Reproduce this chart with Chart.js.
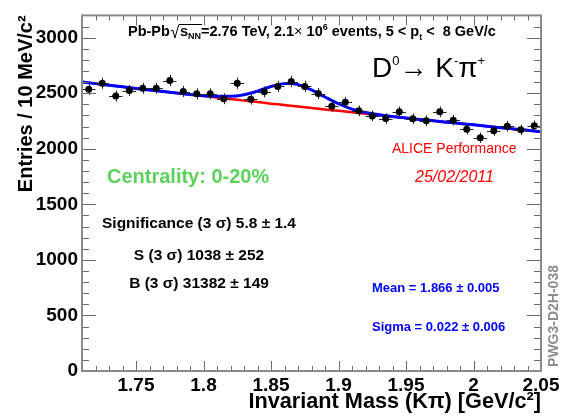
<!DOCTYPE html>
<html>
<head>
<meta charset="utf-8">
<script src="https://cdn.jsdelivr.net/npm/chart.js@4.4.1/dist/chart.umd.min.js"></script>
<style>
  html, body { margin: 0; padding: 0; background: #fff; }
</style>
</head>
<body>
<canvas id="massPlot" width="564" height="420"></canvas>
<script>
// K-pi invariant mass, 10 MeV bins
const massBins = [1.715, 1.725, 1.735, 1.745, 1.755, 1.765, 1.775, 1.785, 1.795, 1.805,
                  1.815, 1.825, 1.835, 1.845, 1.855, 1.865, 1.875, 1.885, 1.895, 1.905,
                  1.915, 1.925, 1.935, 1.945, 1.955, 1.965, 1.975, 1.985, 1.995, 2.005,
                  2.015, 2.025, 2.035, 2.045];
const entries = [2535, 2590, 2474, 2524, 2544, 2544, 2614, 2515, 2494, 2494,
                 2450, 2590, 2445, 2512, 2561, 2605, 2561, 2497, 2383, 2418,
                 2342, 2295, 2272, 2333, 2269, 2252, 2333, 2257, 2175, 2099,
                 2161, 2202, 2170, 2208];
const entryErrors = [50, 51, 50, 50, 50, 50, 51, 50, 50, 50,
                     49, 51, 49, 50, 51, 51, 51, 50, 49, 49,
                     48, 48, 48, 48, 48, 47, 48, 48, 47, 46,
                     46, 47, 47, 47];
const binHalfWidth = 0.005;

// fit curves: exponential background and background + gaussian
const fitMass = [1.71, 1.72, 1.73, 1.74, 1.75, 1.76, 1.77, 1.78, 1.79, 1.80,
                 1.81, 1.82, 1.83, 1.84, 1.85, 1.86, 1.865, 1.87, 1.88, 1.89,
                 1.90, 1.91, 1.92, 1.93, 1.94, 1.95, 1.96, 1.97, 1.98, 1.99,
                 2.00, 2.01, 2.02, 2.03, 2.04, 2.05];
const backgroundFit = [2600, 2586, 2571, 2557, 2543, 2529, 2515, 2501, 2488, 2474,
                       2460, 2447, 2433, 2420, 2406, 2393, 2386, 2380, 2367, 2354,
                       2341, 2328, 2315, 2302, 2289, 2277, 2264, 2252, 2239, 2227,
                       2215, 2203, 2190, 2178, 2166, 2154];
const totalFit = [2600, 2586, 2571, 2557, 2543, 2529, 2515, 2501, 2489, 2477,
                  2472, 2472, 2486, 2519, 2560, 2586, 2588, 2577, 2530, 2466,
                  2405, 2357, 2326, 2305, 2290, 2277, 2264, 2252, 2239, 2227,
                  2215, 2203, 2190, 2178, 2166, 2154];

const massTicks = [1.75, 1.8, 1.85, 1.9, 1.95, 2, 2.05];
const entryTicks = [0, 500, 1000, 1500, 2000, 2500, 3000];

const SANS = '"Liberation Sans", Arial, Helvetica, sans-serif';

// draws a row of text pieces (sub/superscripts) starting at x, or centred on x
function drawRuns(ctx, x, y, runs, align) {
  let total = 0;
  runs.forEach(r => {
    ctx.font = r.font;
    r.w = r.gap != null ? r.gap : ctx.measureText(r.text).width;
    total += r.w;
  });
  let cx = align === 'center' ? x - total / 2 : x;
  runs.forEach(r => {
    r.x = cx;
    if (r.text) {
      ctx.font = r.font;
      ctx.fillText(r.text, cx, y + (r.dy || 0));
    }
    cx += r.w;
  });
  return runs;
}

// ROOT style frame with inward ticks on all four sides
const frameTicks = {
  id: 'frameTicks',
  afterDatasetsDraw(chart) {
    const { ctx, chartArea: a, scales: { x, y } } = chart;
    ctx.save();
    ctx.strokeStyle = '#6a6a6a';
    ctx.lineWidth = 1;
    ctx.beginPath();
    for (let i = 172; i <= 204; i++) {
      const px = Math.round(x.getPixelForValue(i / 100)) + 0.5;
      const len = i % 5 === 0 ? 10 : 5;
      ctx.moveTo(px, a.bottom); ctx.lineTo(px, a.bottom - len);
      ctx.moveTo(px, a.top); ctx.lineTo(px, a.top + len);
    }
    for (let v = 100; v <= 3100; v += 100) {
      const py = Math.round(y.getPixelForValue(v)) + 0.5;
      const len = v % 500 === 0 ? 14 : 7;
      ctx.moveTo(a.left, py); ctx.lineTo(a.left + len, py);
      ctx.moveTo(a.right, py); ctx.lineTo(a.right - len, py);
    }
    ctx.stroke();
    ctx.strokeStyle = '#8a8a8a';
    ctx.lineWidth = 2;
    ctx.strokeRect(a.left, a.top, a.right - a.left, a.bottom - a.top);
    ctx.restore();
  },
  beforeDatasetDraw(chart, args) {
    if (args.index !== 0) return;
    const { ctx, scales: { x, y } } = chart;
    ctx.save();
    ctx.strokeStyle = '#262626';
    ctx.lineWidth = 1;
    ctx.beginPath();
    massBins.forEach((m, i) => {
      const px = Math.round(x.getPixelForValue(m)) + 0.5;
      const py = Math.round(y.getPixelForValue(entries[i])) + 0.5;
      ctx.moveTo(x.getPixelForValue(m - binHalfWidth), py);
      ctx.lineTo(x.getPixelForValue(m + binHalfWidth), py);
      ctx.moveTo(px, y.getPixelForValue(entries[i] - entryErrors[i]));
      ctx.lineTo(px, y.getPixelForValue(entries[i] + entryErrors[i]));
    });
    ctx.stroke();
    ctx.restore();
  }
};

// labels inside the pad
const padLabels = {
  id: 'padLabels',
  afterDraw(chart) {
    const ctx = chart.ctx;
    ctx.save();
    ctx.textBaseline = 'alphabetic';
    ctx.textAlign = 'left';

    // collision system line
    ctx.fillStyle = '#000';
    const big = 'bold 14.5px ' + SANS, small = 'bold 9px ' + SANS;
    const head = drawRuns(ctx, 128, 36, [
      { text: 'Pb-Pb', font: big },
      { gap: 10 },
      { text: 's', font: big },
      { text: 'NN', font: small, dy: 3 },
      { text: '=2.76 TeV, 2.1', font: big },
      { text: '\u00d7', font: '14.5px ' + SANS },
      { text: ' 10', font: big },
      { text: '6', font: small, dy: -6 },
      { text: ' events, 5 < p', font: big },
      { text: 't', font: small, dy: 4 },
      { text: ' <  8 GeV/c', font: big }
    ]);
    const r0 = head[1].x, rEnd = head[3].x + head[3].w;
    ctx.strokeStyle = '#000';
    ctx.lineWidth = 1;
    ctx.beginPath();
    ctx.moveTo(r0 + 1, 31); ctx.lineTo(r0 + 3, 30);
    ctx.lineTo(r0 + 5, 38); ctx.lineTo(r0 + 9, 24.5);
    ctx.lineTo(rEnd + 1, 24.5);
    ctx.stroke();

    // decay channel
    const r28 = '28px ' + SANS, r13 = '13px ' + SANS;
    drawRuns(ctx, 372, 77, [
      { text: 'D', font: r28 },
      { text: '0', font: r13, dy: -12 },
      { text: '\u2192 K', font: r28 },
      { text: '-', font: r13, dy: -12 },
      { text: '\u03c0', font: r28 },
      { text: '+', font: r13, dy: -12 }
    ]);

    ctx.fillStyle = '#ff0000';
    ctx.font = '14px ' + SANS;
    ctx.fillText('ALICE Performance', 392, 153);
    ctx.font = 'italic 16px ' + SANS;
    ctx.fillText('25/02/2011', 415, 182);

    ctx.fillStyle = '#5bd25b';
    ctx.font = 'bold 20px ' + SANS;
    ctx.fillText('Centrality: 0-20%', 107, 183);

    ctx.fillStyle = '#000';
    ctx.font = 'bold 15.5px ' + SANS;
    ctx.textAlign = 'center';
    ctx.fillText('Significance (3 \u03c3) 5.8 \u00b1 1.4', 199, 228);
    ctx.fillText('S (3 \u03c3) 1038 \u00b1 252', 199, 260);
    ctx.fillText('B (3 \u03c3) 31382 \u00b1 149', 199, 288);

    ctx.textAlign = 'left';
    ctx.fillStyle = '#0000ff';
    ctx.font = 'bold 13px ' + SANS;
    ctx.fillText('Mean = 1.866 \u00b1 0.005', 372, 292);
    ctx.fillText('Sigma = 0.022 \u00b1 0.006', 372, 331);

    ctx.fillStyle = '#8c8c8c';
    ctx.font = 'bold 14px ' + SANS;
    ctx.textAlign = 'center';
    ctx.translate(558, 316);
    ctx.rotate(-Math.PI / 2);
    ctx.fillText('PWG3-D2H-038', 0, 0);
    ctx.restore();
  }
};

const tickFont = { family: SANS, size: 19, weight: 'bold' };

new Chart(document.getElementById('massPlot'), {
  type: 'scatter',
  data: {
    datasets: [
      {
        label: 'Entries',
        data: massBins.map((m, i) => ({ x: m, y: entries[i] })),
        showLine: false,
        pointRadius: 3.5,
        pointBackgroundColor: '#000',
        pointBorderWidth: 0,
        order: 0
      },
      {
        label: 'Signal + background',
        data: fitMass.map((m, i) => ({ x: m, y: totalFit[i] })),
        showLine: true,
        borderColor: '#0000ff',
        borderWidth: 3,
        pointRadius: 0,
        cubicInterpolationMode: 'monotone',
        order: 1
      },
      {
        label: 'Background',
        data: fitMass.map((m, i) => ({ x: m, y: backgroundFit[i] })),
        showLine: true,
        borderColor: '#ff0000',
        borderWidth: 2.5,
        pointRadius: 0,
        cubicInterpolationMode: 'monotone',
        order: 2
      }
    ]
  },
  options: {
    responsive: false,
    animation: false,
    events: [],
    layout: { padding: { left: 0, top: 6, right: 23, bottom: 0 } },
    plugins: { legend: { display: false }, tooltip: { enabled: false } },
    scales: {
      x: {
        type: 'linear',
        min: 1.71,
        max: 2.05,
        afterBuildTicks: s => { s.ticks = massTicks.map(v => ({ value: v })); },
        afterFit: s => { s.height = 49; },
        grid: { display: false, drawTicks: false },
        border: { display: false },
        ticks: {
          autoSkip: false, maxRotation: 0, padding: 3, color: '#000',
          font: tickFont, callback: v => String(v)
        },
        title: {
          display: true, text: 'Invariant Mass (K\u03c0) [GeV/c\u00b2]', align: 'end',
          color: '#000', font: { family: SANS, size: 21.7, weight: 'bold' },
          padding: { top: 0, bottom: 5 }
        }
      },
      y: {
        min: 0,
        max: 3200,
        afterBuildTicks: s => { s.ticks = entryTicks.map(v => ({ value: v })); },
        afterFit: s => { s.width = 82; },
        grid: { display: false, drawTicks: false },
        border: { display: false },
        ticks: { padding: 4, color: '#000', font: tickFont, callback: v => String(v) },
        title: {
          display: true, text: 'Entries / 10 MeV/c\u00b2', align: 'end',
          color: '#000', font: { family: SANS, size: 20, weight: 'bold' },
          padding: { top: 14, bottom: 0 }
        }
      }
    }
  },
  plugins: [frameTicks, padLabels]
});
</script>
</body>
</html>
